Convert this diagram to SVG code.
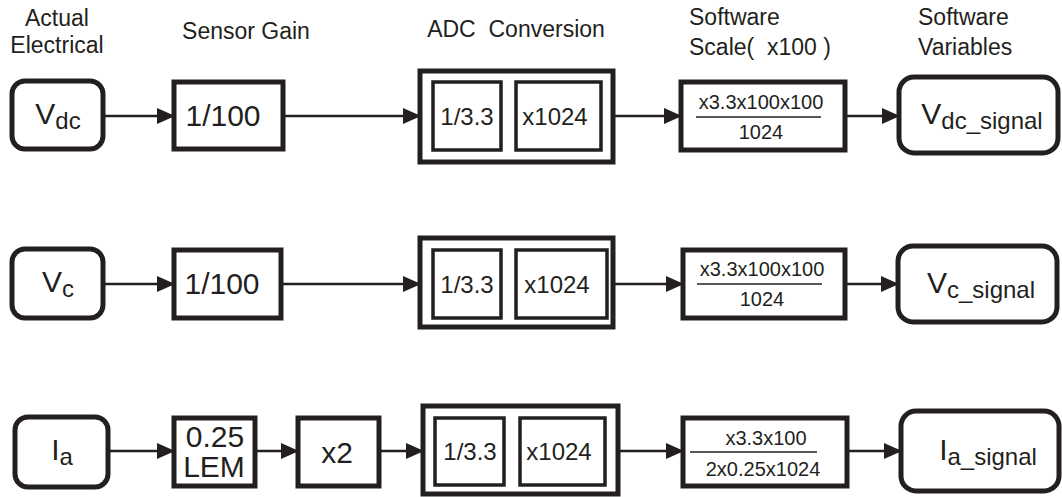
<svg xmlns="http://www.w3.org/2000/svg" width="1062" height="497" viewBox="0 0 1062 497">
<defs>
<style>
text{font-family:"Liberation Sans",Arial,sans-serif;fill:#231f20}
.h{font-size:23px}
.big{font-size:30px}
.mid{font-size:24px}
.sm{font-size:20px}
.sub{font-size:24px}
.node{fill:#fff;stroke:#231f20;stroke-width:5}
.in{fill:#fff;stroke:#231f20;stroke-width:3.5}
.c{stroke:#231f20;stroke-width:2.5;fill:none;marker-end:url(#ah)}
.fl{stroke:#231f20;stroke-width:1.5}
</style>
<marker id="ah" markerUnits="userSpaceOnUse" markerWidth="18" markerHeight="16" refX="17" refY="8" orient="auto">
<path d="M0,0 L18,8 L0,16 Z" fill="#231f20"/>
</marker>
</defs>
<rect width="1062" height="497" fill="#fff"/>
<g id="headers" class="h">
<text x="57" y="26" text-anchor="middle">Actual</text>
<text x="57" y="53" text-anchor="middle">Electrical</text>
<text x="246" y="39" text-anchor="middle">Sensor Gain</text>
<text x="516" y="37" text-anchor="middle" xml:space="preserve">ADC  Conversion</text>
<text x="689" y="25">Software</text>
<text x="689" y="55" xml:space="preserve">Scale(  x100 )</text>
<text x="918" y="25">Software</text>
<text x="918" y="55">Variables</text>
</g>
<g id="connectors">
<path class="c" d="M103,116 H174"/>
<path class="c" d="M283,116 H420"/>
<path class="c" d="M613,116 H681"/>
<path class="c" d="M845,116 H899"/>
<path class="c" d="M103,284 H174"/>
<path class="c" d="M281,284 H420"/>
<path class="c" d="M613,284 H683"/>
<path class="c" d="M845,284 H898"/>
<path class="c" d="M108,451 H174"/>
<path class="c" d="M255,451 H298"/>
<path class="c" d="M379,451 H423"/>
<path class="c" d="M618,451 H683"/>
<path class="c" d="M847,451 H901"/>
</g>
<!-- Row 1 -->
<g id="vdc">
<rect class="node" x="12" y="81" width="91" height="68" rx="13"/>
<text class="big" x="58" y="124" text-anchor="middle">V<tspan class="sub" dy="5">dc</tspan></text>
</g>
<g id="gain1">
<rect class="node" x="174" y="82" width="109" height="67"/>
<text class="big" x="223" y="126" text-anchor="middle">1/100</text>
</g>
<g id="adc1">
<rect class="node" x="420" y="71" width="193" height="91"/>
<rect class="in" x="433" y="82" width="68" height="68"/>
<text class="mid" x="467" y="125" text-anchor="middle">1/3.3</text>
<rect class="in" x="516" y="82" width="85" height="68"/>
<text class="mid" x="555" y="125" text-anchor="middle">x1024</text>
</g>
<g id="scale1">
<rect class="node" x="681" y="82" width="164" height="68"/>
<text class="sm" x="761" y="109" text-anchor="middle">x3.3x100x100</text>
<line class="fl" x1="696" y1="117" x2="821" y2="117"/>
<text class="sm" x="761" y="139" text-anchor="middle">1024</text>
</g>
<g id="vdc_signal">
<rect class="node" x="899" y="77" width="159" height="76" rx="15"/>
<text class="big" x="982" y="124" text-anchor="middle">V<tspan class="sub" dy="5">dc_signal</tspan></text>
</g>
<!-- Row 2 -->
<g id="vc">
<rect class="node" x="12" y="249" width="91" height="69" rx="13"/>
<text class="big" x="58" y="292" text-anchor="middle">V<tspan class="sub" dy="5">c</tspan></text>
</g>
<g id="gain2">
<rect class="node" x="174" y="250" width="107" height="68"/>
<text class="big" x="222" y="294" text-anchor="middle">1/100</text>
</g>
<g id="adc2">
<rect class="node" x="420" y="238" width="193" height="89"/>
<rect class="in" x="433" y="250" width="68" height="68"/>
<text class="mid" x="467" y="293" text-anchor="middle">1/3.3</text>
<rect class="in" x="516" y="250" width="91" height="68"/>
<text class="mid" x="557" y="293" text-anchor="middle">x1024</text>
</g>
<g id="scale2">
<rect class="node" x="683" y="250" width="162" height="68"/>
<text class="sm" x="762" y="276" text-anchor="middle">x3.3x100x100</text>
<line class="fl" x1="697" y1="284" x2="822" y2="284"/>
<text class="sm" x="762" y="306" text-anchor="middle">1024</text>
</g>
<g id="vc_signal">
<rect class="node" x="898" y="246" width="159" height="76" rx="15"/>
<text class="big" x="981" y="293" text-anchor="middle">V<tspan class="sub" dy="5">c_signal</tspan></text>
</g>
<!-- Row 3 -->
<g id="ia">
<rect class="node" x="15" y="417" width="93" height="70" rx="13"/>
<text class="big" x="62" y="460" text-anchor="middle">I<tspan class="sub" dy="5">a</tspan></text>
</g>
<g id="lem">
<rect class="node" x="174" y="418" width="81" height="68"/>
<text class="big" x="215" y="447" text-anchor="middle">0.25</text>
<text class="big" x="214" y="477" text-anchor="middle">LEM</text>
</g>
<g id="x2">
<rect class="node" x="298" y="418" width="81" height="68"/>
<text class="big" x="337" y="463" text-anchor="middle">x2</text>
</g>
<g id="adc3">
<rect class="node" x="423" y="406" width="195" height="88"/>
<rect class="in" x="435" y="418" width="69" height="67"/>
<text class="mid" x="470" y="460" text-anchor="middle">1/3.3</text>
<rect class="in" x="520" y="418" width="85" height="67"/>
<text class="mid" x="559" y="460" text-anchor="middle">x1024</text>
</g>
<g id="scale3">
<rect class="node" x="683" y="418" width="164" height="68"/>
<text class="sm" x="766" y="445" text-anchor="middle">x3.3x100</text>
<line class="fl" x1="690" y1="452" x2="817" y2="452"/>
<text class="sm" x="763" y="476" text-anchor="middle">2x0.25x1024</text>
</g>
<g id="ia_signal">
<rect class="node" x="901" y="411" width="158" height="80" rx="15"/>
<text class="big" x="988" y="460" text-anchor="middle">I<tspan class="sub" dy="5">a_signal</tspan></text>
</g>
</svg>
